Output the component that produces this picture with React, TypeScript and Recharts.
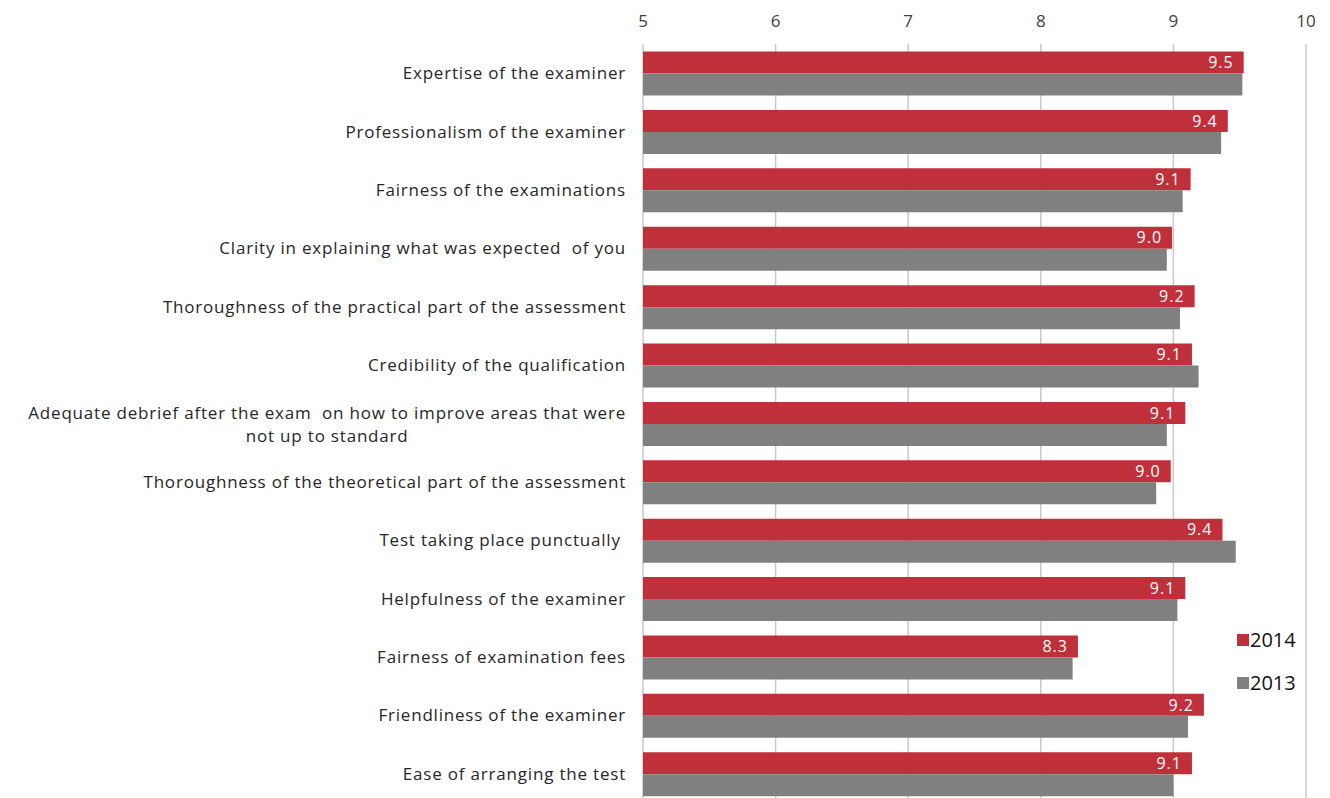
import React from "react";
import {
  Bar,
  BarChart,
  CartesianGrid,
  LabelList,
  XAxis,
  YAxis,
} from "recharts";

const categories = [
  "Expertise of the examiner",
  "Professionalism of the examiner",
  "Fairness of the examinations",
  "Clarity in explaining what was expected  of you",
  "Thoroughness of the practical part of the assessment",
  "Credibility of the qualification",
  "Adequate debrief after the exam  on how to improve areas that were\nnot up to standard",
  "Thoroughness of the theoretical part of the assessment",
  "Test taking place punctually ",
  "Helpfulness of the examiner",
  "Fairness of examination fees",
  "Friendliness of the examiner",
  "Ease of arranging the test",
];

const values2014 = [9.53, 9.41, 9.13, 8.99, 9.16, 9.14, 9.09, 8.98, 9.37, 9.09, 8.28, 9.23, 9.14];
const values2013 = [9.52, 9.36, 9.07, 8.95, 9.05, 9.19, 8.95, 8.87, 9.47, 9.03, 8.24, 9.11, 9.0];

const xTicks = [5, 6, 7, 8, 9, 10];

const data = categories.map((name, i) => ({
  name,
  y2014: values2014[i],
  y2013: values2013[i],
}));

const FONT = "'Open Sans', sans-serif";
const RED = "#c0303a";
const GRAY = "#808080";
const LABEL_SIZE = 17;
const LABEL_SPACING = 0.8;

let ctx: CanvasRenderingContext2D | null = null;
function measure(text: string) {
  if (!ctx) ctx = document.createElement("canvas").getContext("2d");
  if (!ctx) return text.length * 9;
  ctx.font = `${LABEL_SIZE}px ${FONT}`;
  return ctx.measureText(text).width + text.length * LABEL_SPACING;
}

function CategoryTick({ x, y, payload }: any) {
  const lines = String(payload.value).split("\n");
  const style = {
    fontFamily: FONT,
    fontSize: LABEL_SIZE,
    fill: "#262626",
    letterSpacing: LABEL_SPACING,
    whiteSpace: "pre" as const,
  };
  if (lines.length === 1) {
    return (
      <text x={x} y={y} dy={6} textAnchor="end" style={style}>
        {lines[0]}
      </text>
    );
  }
  const w = measure(lines[0]);
  const cx = x - w / 2;
  return (
    <text x={cx} y={y} textAnchor="middle" style={style}>
      {lines.map((l, i) => (
        <tspan key={i} x={cx} dy={i === 0 ? -5 : 23}>
          {l}
        </tspan>
      ))}
    </text>
  );
}

function LegendBox() {
  const items = [
    { label: "2014", color: RED },
    { label: "2013", color: GRAY },
  ];
  return (
    <div
      style={{
        position: "absolute",
        left: 1237,
        top: 618,
        fontFamily: FONT,
        fontSize: 20,
        color: "#111",
      }}
    >
      {items.map((it) => (
        <div
          key={it.label}
          style={{ display: "flex", alignItems: "center", height: 43 }}
        >
          <span
            style={{
              width: 12,
              height: 12,
              background: it.color,
              marginRight: 1,
              display: "inline-block",
            }}
          />
          {it.label}
        </div>
      ))}
    </div>
  );
}

export default function App() {
  return (
    <div
      style={{
        position: "absolute",
        left: 0,
        top: 0,
        width: 1330,
        height: 798,
        overflow: "hidden",
        background: "#fff",
      }}
    >
      <BarChart
        width={1330}
        height={803}
        data={data}
        layout="vertical"
        margin={{ top: 0, right: 24, bottom: 0, left: 0 }}
        barCategoryGap="13%"
        barGap={0}
      >
        <CartesianGrid horizontal={false} stroke="#c8c8c8" strokeWidth={1.5} />
        <XAxis
          type="number"
          orientation="top"
          domain={[5, 10]}
          ticks={xTicks}
          axisLine={false}
          tickLine={false}
          height={44}
          tickMargin={11}
          tick={{ fontFamily: FONT, fontSize: 17, fill: "#404040" }}
        />
        <YAxis
          type="category"
          dataKey="name"
          width={643}
          axisLine={false}
          tickLine={false}
          tickMargin={11}
          interval={0}
          tick={<CategoryTick />}
        />
        <Bar dataKey="y2014" name="2014" fill={RED} isAnimationActive={false}>
          <LabelList
            dataKey="y2014"
            position="insideRight"
            offset={10}
            formatter={(v: any) => Number(v).toFixed(1)}
            style={{ fill: "#fff", fontFamily: FONT, fontSize: 16, letterSpacing: 1 }}
          />
        </Bar>
        <Bar dataKey="y2013" name="2013" fill={GRAY} isAnimationActive={false} />
      </BarChart>
      <LegendBox />
    </div>
  );
}
